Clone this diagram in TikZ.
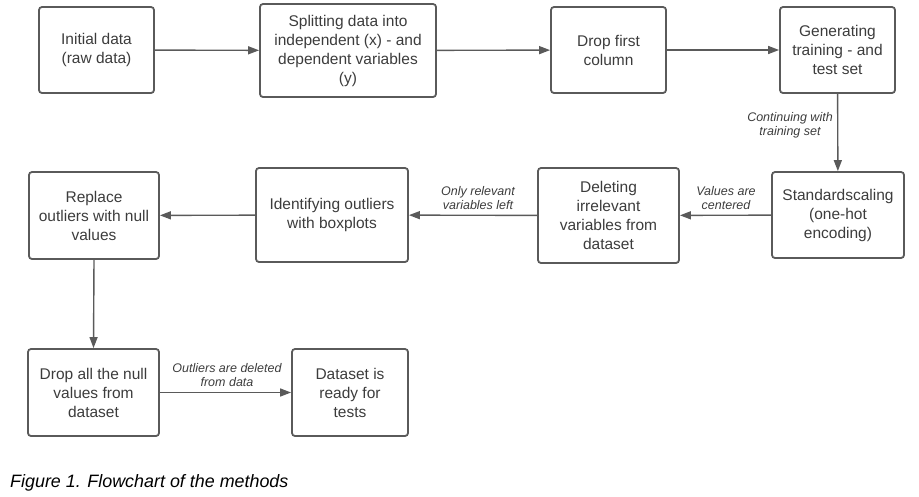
\documentclass[tikz,border=0pt]{standalone}
\usepackage{fontspec}
\setmainfont{Liberation Sans}
\usetikzlibrary{arrows.meta}
\definecolor{edge}{HTML}{5A5A5A}
\definecolor{ink}{HTML}{3C3C3C}
\tikzset{
  box/.style={draw=edge, line width=1.8pt, rounded corners=3pt, align=center,
    font=\fontsize{15.5}{19}\selectfont, text=ink, inner sep=0pt},
  flow/.style={draw=edge, line width=1.4pt, -{Triangle[length=11pt,width=8pt]}},
  lab/.style={align=center, font=\fontsize{12.5}{14.5}\selectfont\itshape, text=ink, inner sep=0pt}
}
\begin{document}
\begin{tikzpicture}[x=1pt,y=-1pt]
\useasboundingbox (0,0) rectangle (919,496);
\node[box, minimum width=115pt, minimum height=86pt] (init) at (96.5,50) {Initial data\\(raw data)};
\node[box, minimum width=176pt, minimum height=93pt] (split) at (348,50.5) {Splitting data into\\independent (x) - and\\dependent variables\\(y)};
\node[box, minimum width=115pt, minimum height=86pt] (dropc) at (608.5,50) {Drop first\\column};
\node[box, minimum width=115pt, minimum height=86pt] (gen) at (837.5,50) {Generating\\training - and\\test set};
\node[box, minimum width=132pt, minimum height=86pt] (std) at (838,215) {Standardscaling\\(one-hot\\encoding)};
\node[box, minimum width=141pt, minimum height=95pt] (del) at (608.5,215.5) {Deleting\\irrelevant\\variables from\\dataset};
\node[box, minimum width=152pt, minimum height=94pt] (ident) at (332,215) {Identifying outliers\\with boxplots};
\node[box, minimum width=130pt, minimum height=87pt] (repl) at (94,215.5) {Replace\\outliers with null\\values};
\node[box, minimum width=131pt, minimum height=87pt] (dropn) at (93.5,392.5) {Drop all the null\\values from\\dataset};
\node[box, minimum width=116pt, minimum height=87pt] (ready) at (350,392.5) {Dataset is\\ready for\\tests};

\draw[flow] (init) -- (split);
\draw[flow] (split) -- (dropc);
\draw[flow] (dropc) -- (gen);
\draw[flow] (gen) -- (std);
\draw[flow] (std) -- (del);
\draw[flow] (del) -- (ident);
\draw[flow] (ident) -- (repl);
\draw[flow] (repl.south) -- (dropn.north);
\draw[flow] (dropn) -- (ready);

\node[lab] (l1) at (790,125.5) {Continuing with\\training set};
\node[lab] (l2) at (726,198) {Values are\\centered};
\node[lab] (l3) at (478,198) {Only relevant\\variables left};
\node[lab] (l4) at (227,375) {Outliers are deleted\\from data};

\node[anchor=west, inner sep=0pt, font=\fontsize{17.9}{20}\selectfont\itshape, text=black] (cap) at (10,483) {Figure 1. Flowchart of the methods};
\end{tikzpicture}
\end{document}
